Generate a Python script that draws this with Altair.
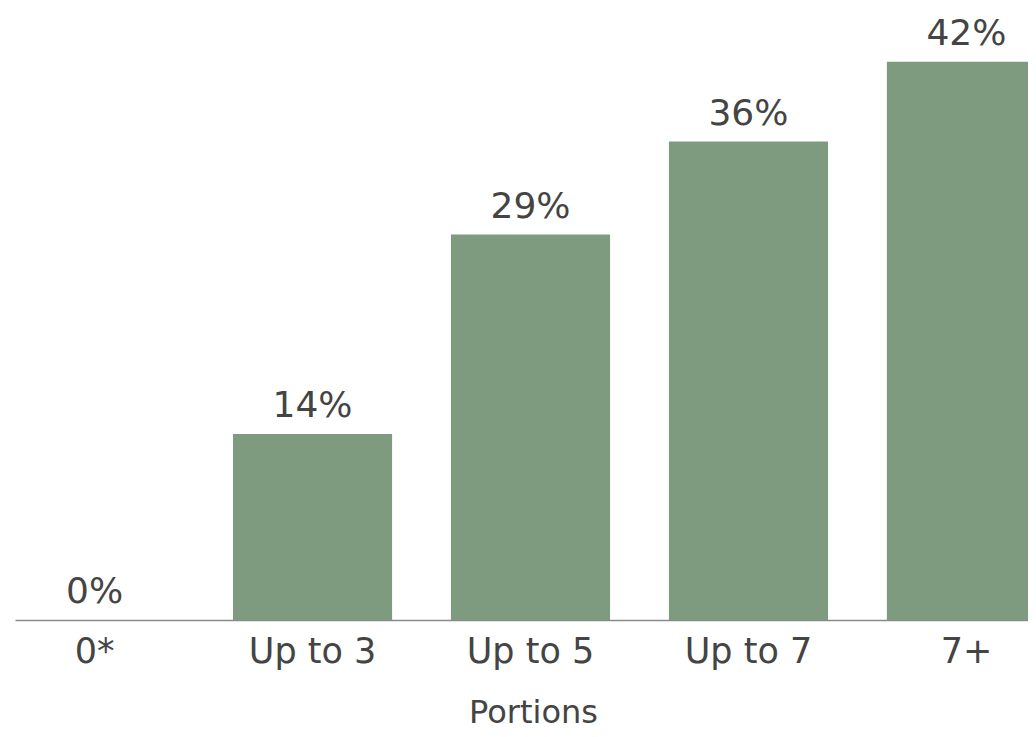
import altair as alt
import pandas as pd

categories = ["0*", "Up to 3", "Up to 5", "Up to 7", "7+"]
values = [0, 14, 29, 36, 42]
labels = ["0%", "14%", "29%", "36%", "42%"]

df = pd.DataFrame({"cat": categories, "val": values, "lab": labels})

FONT = "DejaVu Sans"
TEXT = "#444444"

x = alt.X(
    "cat:N",
    sort=None,
    scale=alt.Scale(range=[0, 1031], paddingInner=0.27, paddingOuter=0),
    axis=alt.Axis(
        title="Portions",
        titleFont=FONT,
        titleFontSize=32,
        titleFontWeight="normal",
        titleColor=TEXT,
        titleX=518,
        titleY=102,
        titleBaseline="alphabetic",
        labelFont=FONT,
        labelFontSize=35,
        labelColor=TEXT,
        labelAngle=0,
        labelPadding=14,
        labelBaseline="top",
        ticks=False,
        domainColor="#8a8a8a",
        domainWidth=1.5,
        labelOverlap=False,
    ),
)
y = alt.Y("val:Q", scale=alt.Scale(domain=[0, 45]), axis=None)

bars = alt.Chart(df).mark_bar(color="#7e9a7f").encode(x=x, y=y)
text = alt.Chart(df).mark_text(
    font=FONT, fontSize=36, color=TEXT, baseline="alphabetic", dy=-17
).encode(x=x, y=y, text="lab:N")

chart = (
    alt.layer(bars, text)
    .properties(
        width=1013,
        height=598,
        autosize=alt.AutoSizeParams(type="none"),
        padding={"left": 7, "top": 14, "right": 0, "bottom": 112},
        background="white",
    )
    .configure_view(strokeWidth=0, stroke="transparent")
)

chart.save("out.html", embed_options={"renderer": "svg", "actions": False})
